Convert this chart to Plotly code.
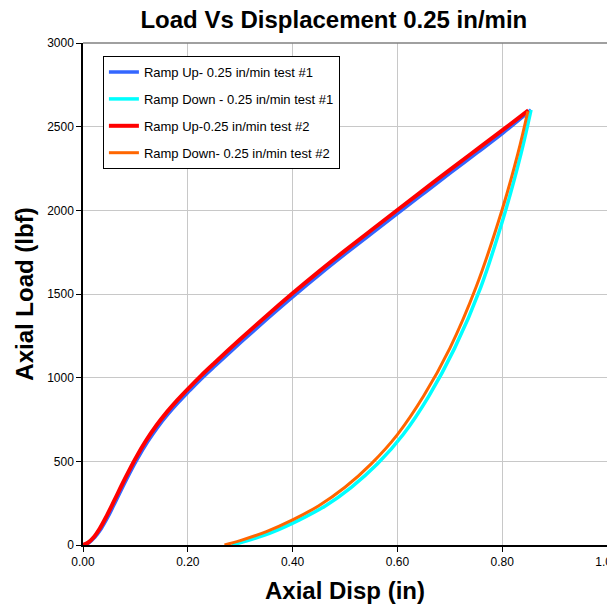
import plotly.graph_objects as go

# Ramp up, test #1 (displacement in, load lbf)
up1_disp = [0.000, 0.012, 0.022, 0.035, 0.048, 0.063, 0.083, 0.103, 0.123, 0.143, 0.163, 0.183,
            0.203, 0.228, 0.253, 0.303, 0.353, 0.403, 0.453, 0.503, 0.553, 0.603, 0.653, 0.703,
            0.753, 0.803, 0.855]
up1_load = [0, 15, 45, 99, 170, 265, 392, 510, 615, 706, 785, 856,
            921, 1000, 1073, 1216, 1355, 1490, 1620, 1745, 1867, 1988, 2108, 2228,
            2346, 2466, 2600]

# Ramp down, test #1
down1_disp = [0.855, 0.836, 0.807, 0.759, 0.709, 0.660, 0.611, 0.562, 0.512, 0.463, 0.413,
              0.364, 0.314, 0.284]
down1_load = [2600, 2340, 2005, 1540, 1175, 890, 660, 485, 345, 235, 150,
              80, 26, 0]

# Ramp up, test #2
up2_disp = [0.000, 0.010, 0.020, 0.032, 0.045, 0.060, 0.080, 0.100, 0.120, 0.140, 0.160, 0.180,
            0.200, 0.225, 0.250, 0.300, 0.350, 0.400, 0.450, 0.500, 0.550, 0.600, 0.650, 0.700,
            0.750, 0.800, 0.850]
up2_load = [0, 15, 45, 99, 173, 268, 396, 516, 622, 714, 794, 866,
            932, 1011, 1085, 1229, 1369, 1504, 1634, 1759, 1881, 2002, 2122, 2242,
            2360, 2478, 2597]

# Ramp down, test #2
down2_disp = [0.849, 0.830, 0.800, 0.750, 0.700, 0.650, 0.600, 0.550, 0.500, 0.450, 0.400,
              0.350, 0.300, 0.270]
down2_load = [2592, 2340, 2005, 1540, 1175, 890, 660, 485, 345, 235, 150,
              80, 26, 0]

x_ticks = [0.0, 0.2, 0.4, 0.6, 0.8, 1.0]
x_tick_text = ["0.00", "0.20", "0.40", "0.60", "0.80", "1.00"]
y_ticks = [0, 500, 1000, 1500, 2000, 2500, 3000]

FONT = "Liberation Sans, Arial, sans-serif"

fig = go.Figure()

series = [
    ("Ramp Up- 0.25 in/min test #1", up1_disp, up1_load, "#3366FF", 3.5),
    ("Ramp Down - 0.25 in/min test #1", down1_disp, down1_load, "#00FFFF", 3.5),
    ("Ramp Up-0.25 in/min test #2", up2_disp, up2_load, "#FF0000", 4),
    ("Ramp Down- 0.25 in/min test #2", down2_disp, down2_load, "#FF6600", 3),
]
for i, (name, xs, ys, color, width) in enumerate(series):
    fig.add_trace(go.Scatter(
        x=xs, y=ys, mode="lines", name=name, legendgroup=f"g{i}",
        line=dict(color=color, width=width, shape="spline", smoothing=1.0),
    ))

# darker frame line along the top of the plot area
fig.add_shape(type="line", xref="paper", yref="paper", x0=0, x1=1, y0=1, y1=1,
              line=dict(color="#808080", width=1.5), layer="above")

fig.update_layout(
    width=607, height=607,
    margin=dict(l=83, r=0, t=43, b=62),
    paper_bgcolor="white", plot_bgcolor="white",
    font=dict(family=FONT, color="black", size=12),
    title=dict(text="<b>Load Vs Displacement 0.25 in/min</b>",
               font=dict(size=24, family=FONT), x=0.55, xanchor="center",
               y=0.967, yanchor="middle"),
    showlegend=True,
    legend=dict(x=0.038, y=0.974, xanchor="left", yanchor="top",
                bgcolor="white", bordercolor="black", borderwidth=1,
                font=dict(size=13, family=FONT), itemwidth=30,
                tracegroupgap=7),
    xaxis=dict(
        range=[0, 1.0], tickvals=x_ticks, ticktext=x_tick_text,
        showgrid=True, gridcolor="#C8C8C8", gridwidth=1,
        showline=True, linecolor="black", linewidth=1.5,
        ticks="outside", ticklen=5, tickcolor="black",
        tickfont=dict(size=12, family=FONT), zeroline=False,
        ticklabeloverflow="allow",
        automargin=False,
        title=dict(text="<b>Axial Disp (in)</b>", font=dict(size=24, family=FONT), standoff=14),
    ),
    yaxis=dict(
        range=[0, 3000], tickvals=y_ticks,
        showgrid=True, gridcolor="#C8C8C8", gridwidth=1,
        showline=True, linecolor="black", linewidth=1.5,
        ticks="outside", ticklen=5, tickcolor="black",
        tickfont=dict(size=12, family=FONT), zeroline=False,
        automargin=False,
        title=dict(text="<b>Axial Load (lbf)</b>", font=dict(size=24, family=FONT), standoff=7),
    ),
)

fig.write_html("out.html")
